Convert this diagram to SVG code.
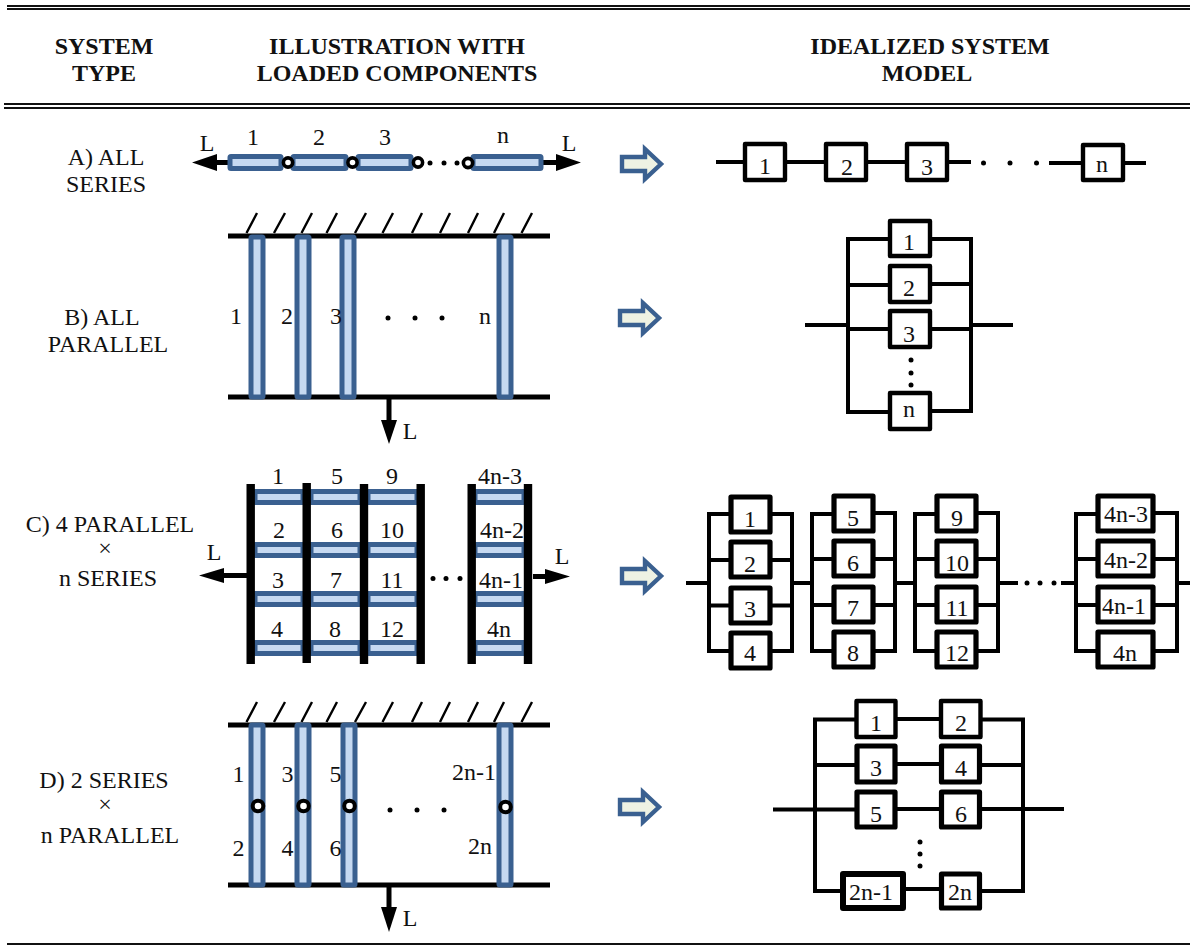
<svg xmlns="http://www.w3.org/2000/svg" width="1190" height="947" viewBox="0 0 1190 947">
<style>
text{font-family:"Liberation Serif","Times New Roman",serif;font-size:24px;fill:#111;text-anchor:middle}
.h{font-weight:bold;font-size:24px}
.rule{fill:none;stroke:#111;stroke-width:2}
.w{fill:none;stroke:#000;stroke-linecap:square}
.w3{stroke-width:4}
.beam{fill:none;stroke:#000;stroke-width:5}
.tick{fill:none;stroke:#000;stroke-width:2.4}
.bar{fill:#c6d9f1;stroke:#3a6090;stroke-width:5;stroke-linejoin:round}
.col{fill:none;stroke:#000;stroke-width:8.4}
.pin{fill:#fff;stroke:#000;stroke-width:3.6}
.pind{fill:#fff;stroke:#000;stroke-width:4}
.dot{fill:#000}
.box{fill:#fff;stroke:#000;stroke-width:4.4;stroke-linejoin:round}
.boxb{fill:#fff;stroke:#000;stroke-width:5.2;stroke-linejoin:round}
.boxc{fill:#fff;stroke:#000;stroke-width:6;stroke-linejoin:round}
.fat{fill:#eef2e3;stroke:#3a6090;stroke-width:4.4}
.tip{fill:#000;stroke:none}
.sh{fill:none;stroke:#000;stroke-width:5}
</style>
<defs>
<g id="hatch">
<path class="tick" d="M246.500 722 L257 702 M274 722 L285 702 M301.500 722 L312 702 M326.500 722 L337 702 M355 722 L366 702 M382.500 722 L393 702 M412 722 L422 702 M440 722 L450 702 M468 722 L478 702 M494 722 L504 702 M521.500 722 L532 702"/>
</g>
<path id="fa" class="fat" d="M-20 -7 H3 V-15 L19 0 L3 15 V7 H-20 Z"/>
</defs>

<g id="rules">
<path class="rule" d="M7 6 H1190 M7 9 H1190 M4 104 H1190 M4 108 H1190 M7 944 H1190"/>
</g>

<g id="headers">
<text class="h" x="104" y="54">SYSTEM</text><text class="h" x="104" y="81">TYPE</text>
<text class="h" x="397" y="54">ILLUSTRATION WITH</text><text class="h" x="397" y="81">LOADED COMPONENTS</text>
<text class="h" x="930" y="54">IDEALIZED SYSTEM</text><text class="h" x="927" y="81">MODEL</text>
</g>

<g id="type-labels">
<text x="106" y="165">A) ALL</text><text x="106" y="192">SERIES</text>
<text x="102" y="325">B) ALL</text><text x="108" y="352">PARALLEL</text>
<text x="110" y="532">C) 4 PARALLEL</text><text x="105" y="556">×</text><text x="108" y="586">n SERIES</text>
<text x="104" y="788">D) 2 SERIES</text><text x="105" y="812">×</text><text x="110" y="843">n PARALLEL</text>
</g>

<g id="illustration-a">
<path class="sh" d="M215 162.500 H228 M543 162.500 H559"/>
<path class="tip" d="M192 162.500 L217 154 V171 Z M581 162.500 L556 154 V171 Z"/>
<rect class="bar" x="230" y="156.500" width="51" height="12" rx="1"/>
<rect class="bar" x="293" y="156.500" width="53" height="12" rx="1"/>
<rect class="bar" x="358" y="156.500" width="53" height="12" rx="1"/>
<rect class="bar" x="473" y="156.500" width="68" height="12" rx="1"/>
<circle class="pin" cx="288" cy="162.500" r="4.600"/><circle class="pin" cx="352.500" cy="162.500" r="4.600"/><circle class="pin" cx="418" cy="162.500" r="4.600"/><circle class="pin" cx="468" cy="163" r="4.600"/>
<circle class="dot" cx="430" cy="163" r="2.500"/><circle class="dot" cx="444" cy="163" r="2.500"/><circle class="dot" cx="457" cy="163" r="2.500"/>
<text x="207" y="151">L</text><text x="253" y="145">1</text><text x="319" y="145">2</text><text x="385" y="145">3</text><text x="503" y="143">n</text><text x="569" y="151">L</text>
</g>

<g id="illustration-b">
<use href="#hatch" y="-489"/>
<path class="beam" d="M228 236 H550 M228 397 H550"/>
<rect class="bar" x="251" y="237" width="12" height="160" rx="1"/>
<rect class="bar" x="297" y="237" width="12" height="160" rx="1"/>
<rect class="bar" x="342" y="237" width="12" height="160" rx="1"/>
<rect class="bar" x="499" y="237" width="12" height="160" rx="1"/>
<path class="sh" d="M389 397 V422"/><path class="tip" d="M389 444 L381 420 H397 Z"/>
<circle class="dot" cx="388" cy="318" r="2.500"/><circle class="dot" cx="415" cy="318" r="2.500"/><circle class="dot" cx="442" cy="318" r="2.500"/>
<text x="236" y="324">1</text><text x="287" y="324">2</text><text x="336" y="324">3</text><text x="485" y="324">n</text><text x="410" y="439">L</text>
</g>

<g id="illustration-c">
<g id="c-bars">
<rect class="bar" x="255" y="491.500" width="48" height="11"/><rect class="bar" x="311" y="491.500" width="49" height="11"/><rect class="bar" x="368" y="491.500" width="49" height="11"/><rect class="bar" x="475" y="491.500" width="49" height="11"/>
<rect class="bar" x="255" y="544.500" width="48" height="11"/><rect class="bar" x="311" y="544.500" width="49" height="11"/><rect class="bar" x="368" y="544.500" width="49" height="11"/><rect class="bar" x="475" y="544.500" width="49" height="11"/>
<rect class="bar" x="255" y="593.500" width="48" height="11"/><rect class="bar" x="311" y="593.500" width="49" height="11"/><rect class="bar" x="368" y="593.500" width="49" height="11"/><rect class="bar" x="475" y="593.500" width="49" height="11"/>
<rect class="bar" x="255" y="642.500" width="48" height="11"/><rect class="bar" x="311" y="642.500" width="49" height="11"/><rect class="bar" x="368" y="642.500" width="49" height="11"/><rect class="bar" x="475" y="642.500" width="49" height="11"/>
</g>
<path class="col" d="M250.700 484 V664 M306.700 483 V663 M364 484 V664 M420.700 484 V664 M471.700 484 V664 M528 484 V664"/>
<path class="sh" d="M222 575.500 H248 M533 576.500 H548"/>
<path class="tip" d="M199 575.500 L224 568 V583 Z M570 576.500 L545 569 V584 Z"/>
<circle class="dot" cx="433" cy="578.500" r="2.500"/><circle class="dot" cx="446" cy="578.500" r="2.500"/><circle class="dot" cx="460" cy="578.500" r="2.500"/>
<text x="278" y="484">1</text><text x="337" y="484">5</text><text x="392" y="484">9</text><text x="500" y="484">4n-3</text>
<text x="279" y="538">2</text><text x="337" y="538">6</text><text x="392" y="538">10</text><text x="502" y="538">4n-2</text>
<text x="278" y="588">3</text><text x="336" y="588">7</text><text x="392" y="588">11</text><text x="501" y="588">4n-1</text>
<text x="277" y="637">4</text><text x="335" y="637">8</text><text x="392" y="637">12</text><text x="499" y="637">4n</text>
<text x="214" y="560">L</text><text x="562" y="564">L</text>
</g>

<g id="illustration-d">
<use href="#hatch"/>
<path class="beam" d="M228 725 H550 M228 885 H550"/>
<rect class="bar" x="251" y="725" width="12" height="160" rx="1"/>
<rect class="bar" x="297" y="725" width="12" height="160" rx="1"/>
<rect class="bar" x="343" y="725" width="12" height="160" rx="1"/>
<rect class="bar" x="499" y="725" width="12" height="160" rx="1"/>
<circle class="pind" cx="258" cy="806" r="5.300"/><circle class="pind" cx="303.500" cy="806" r="5.300"/><circle class="pind" cx="349.500" cy="806" r="5.300"/><circle class="pind" cx="505.500" cy="807" r="5.300"/>
<path class="sh" d="M389 885 V910"/><path class="tip" d="M389 932 L381 907 H397 Z"/>
<circle class="dot" cx="390" cy="810" r="2.500"/><circle class="dot" cx="417" cy="810" r="2.500"/><circle class="dot" cx="444" cy="810" r="2.500"/>
<text x="238.500" y="782">1</text><text x="287.500" y="782">3</text><text x="335.500" y="782">5</text><text x="474" y="780">2n-1</text>
<text x="238.500" y="856">2</text><text x="287.500" y="856">4</text><text x="335.500" y="856">6</text><text x="480" y="854">2n</text>
<text x="410" y="926">L</text>
</g>

<g id="fat-arrows">
<use href="#fa" x="642" y="164"/><use href="#fa" x="640" y="318"/><use href="#fa" x="642" y="576"/><use href="#fa" x="640" y="807"/>
</g>

<g id="connectors">
<path class="w w3" d="M718 162 H744 M786 162 H825 M867 162 H906 M948 162 H969 M1051 163 H1082 M1124 163 H1144"/>
<path class="w w3" d="M890 239 H848 V412 H890 M848 285 H890 M848 329 H890 M807 325 H848 M930 239 H971 V411 H930 M930 284 H971 M930 329 H971 M971 325 H1011"/>
<path class="w w3" d="M730 514 H709 V651 H730 M709 560 H730 M709 605.500 H730 M772 514 H792 V651 H772 M772 560 H792 M772 605.500 H792 M688 583 H709 M792 583 H812"/>
<path class="w w3" d="M833 514 H812 V651 H833 M812 559 H833 M812 605 H833 M875 513 H895 V651 H875 M875 559 H895 M875 605 H895 M895 583 H915"/>
<path class="w w3" d="M936 514 H915 V651 H936 M915 559 H936 M915 605 H936 M978 513 H998 V651 H978 M978 559 H998 M978 605 H998 M998 583 H1016"/>
<path class="w w3" d="M1096 514 H1076 V651 H1096 M1076 559 H1096 M1076 605 H1096 M1155 513 H1177 V651 H1155 M1155 559 H1177 M1155 605 H1177 M1063 583 H1076 M1177 583 H1188"/>
<path class="w w3" d="M856 719.500 H815 V891 H842 M856 765 H815 M775 809.500 H856 M896 719 H940 M896 764 H940 M896 809 H940 M905 889 H940 M982 719.500 H1023 V891 H982 M982 765 H1023 M982 809 H1062"/>
</g>

<g id="ellipses">
<circle class="dot" cx="983.500" cy="163" r="2.500"/><circle class="dot" cx="1010" cy="163" r="2.500"/><circle class="dot" cx="1036.500" cy="163" r="2.500"/>
<circle class="dot" cx="911" cy="360" r="2.500"/><circle class="dot" cx="911" cy="373" r="2.500"/><circle class="dot" cx="911" cy="385" r="2.500"/>
<circle class="dot" cx="1027" cy="583" r="2.500"/><circle class="dot" cx="1040" cy="583" r="2.500"/><circle class="dot" cx="1054" cy="583" r="2.500"/>
<circle class="dot" cx="920" cy="842" r="2.500"/><circle class="dot" cx="920" cy="854" r="2.500"/><circle class="dot" cx="920" cy="866" r="2.500"/>
</g>

<g id="a1"><rect class="box" x="745" y="144" width="40" height="36"/><text x="765" y="174">1</text></g>
<g id="a2"><rect class="box" x="826" y="144" width="40" height="36"/><text x="847" y="175">2</text></g>
<g id="a3"><rect class="box" x="907" y="144" width="40" height="36"/><text x="927" y="175">3</text></g>
<g id="an"><rect class="box" x="1083" y="145" width="40" height="35"/><text x="1102" y="172">n</text></g>

<g id="b1"><rect class="box" x="890" y="221" width="40" height="35"/><text x="909" y="250">1</text></g>
<g id="b2"><rect class="box" x="890" y="266" width="40" height="36"/><text x="909" y="296">2</text></g>
<g id="b3"><rect class="box" x="890" y="311" width="40" height="36"/><text x="909" y="342">3</text></g>
<g id="bn"><rect class="box" x="890" y="393" width="40" height="36"/><text x="909" y="417">n</text></g>

<g id="c1"><rect class="boxb" x="731" y="497" width="39" height="35"/><text x="750" y="527">1</text></g>
<g id="c2"><rect class="boxb" x="731" y="542" width="39" height="35"/><text x="750" y="572">2</text></g>
<g id="c3"><rect class="boxb" x="731" y="588" width="39" height="35"/><text x="750" y="617">3</text></g>
<g id="c4"><rect class="boxb" x="731" y="633" width="39" height="35"/><text x="750" y="661">4</text></g>
<g id="c5"><rect class="boxb" x="834" y="496" width="39" height="35"/><text x="853" y="526">5</text></g>
<g id="c6"><rect class="boxb" x="834" y="541" width="39" height="35"/><text x="853" y="571">6</text></g>
<g id="c7"><rect class="boxb" x="834" y="587" width="39" height="35"/><text x="853" y="616">7</text></g>
<g id="c8"><rect class="boxb" x="834" y="632" width="39" height="35"/><text x="853" y="661">8</text></g>
<g id="c9"><rect class="boxb" x="937" y="496" width="39" height="35"/><text x="957" y="526">9</text></g>
<g id="c10"><rect class="boxb" x="937" y="541" width="39" height="35"/><text x="957" y="571">10</text></g>
<g id="c11"><rect class="boxb" x="937" y="587" width="39" height="35"/><text x="957" y="616">11</text></g>
<g id="c12"><rect class="boxb" x="937" y="632" width="39" height="35"/><text x="957" y="661">12</text></g>
<g id="c13"><rect class="boxb" x="1098" y="496" width="55" height="35"/><text x="1126" y="522">4n-3</text></g>
<g id="c14"><rect class="boxb" x="1098" y="541" width="55" height="35"/><text x="1126" y="568">4n-2</text></g>
<g id="c15"><rect class="boxb" x="1098" y="587" width="55" height="35"/><text x="1124" y="614">4n-1</text></g>
<g id="c16"><rect class="boxb" x="1098" y="632" width="55" height="35"/><text x="1125" y="661">4n</text></g>

<g id="d1"><rect class="box" x="856.500" y="701" width="39" height="36"/><text x="876" y="731">1</text></g>
<g id="d2"><rect class="box" x="941" y="701" width="39.500" height="36"/><text x="961" y="731">2</text></g>
<g id="d3"><rect class="boxb" x="857" y="746" width="38" height="36"/><text x="876" y="776">3</text></g>
<g id="d4"><rect class="boxb" x="941.500" y="746" width="38" height="36"/><text x="961" y="776">4</text></g>
<g id="d5"><rect class="boxb" x="857" y="792" width="38" height="35"/><text x="876" y="822">5</text></g>
<g id="d6"><rect class="boxb" x="941.500" y="792" width="38" height="35"/><text x="961" y="822">6</text></g>
<g id="d7"><rect class="boxc" x="843" y="874" width="60" height="34"/><text x="871" y="900">2n-1</text></g>
<g id="d8"><rect class="boxb" x="941.500" y="874" width="38" height="34"/><text x="960" y="900">2n</text></g>
</svg>
